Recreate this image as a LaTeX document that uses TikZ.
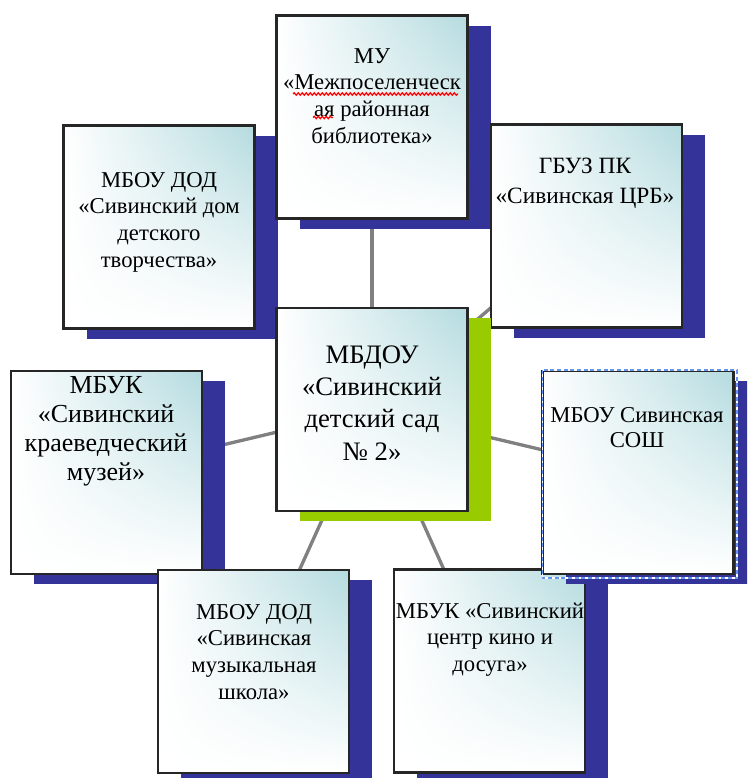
\documentclass[tikz,border=0pt]{standalone}
\usepackage{fontspec}
\setmainfont{Liberation Serif}
\usetikzlibrary{decorations.pathmorphing,shadings}
\definecolor{shblue}{RGB}{51,51,153}
\definecolor{shgreen}{RGB}{153,204,0}
\definecolor{tealtop}{RGB}{180,219,223}
\definecolor{linegray}{RGB}{128,128,128}
\definecolor{selblue}{RGB}{100,150,240}
\pgfdeclarelayer{bg}
\pgfsetlayers{bg,main}
\newcommand{\orgbox}[4]{%
  \fill[#4] ({#2-95.5+23},{#3-101.5+10}) rectangle ({#2+95.5+23},{#3+101.5+10});
  \node[orgshape] (#1) at (#2,#3) {};}
\tikzset{
  orgshape/.style={rectangle, minimum width=143.25pt, minimum height=152.25pt,
    inner sep=0pt, draw=black!85, line width=1.6pt,
    upper left=white, upper right=tealtop, lower left=white, lower right=white},
  txt/.style={align=center, inner sep=0pt, anchor=north,
    font=\fontsize{17}{20}\selectfont},
  conn/.style={draw=linegray, line width=2.5pt},
  spell/.style={draw=red, line width=0.9pt, decorate,
    decoration={snake, amplitude=0.9pt, segment length=3pt}}
}
\begin{document}
\begin{tikzpicture}[x=0.75pt,y=-0.75pt]
\useasboundingbox (0,0) rectangle (747,778);
\clip (0,0) rectangle (747,778);

\orgbox{dod}{159}{227}{shblue}
\orgbox{mu}{372}{117}{shblue}
\orgbox{gbuz}{586.5}{226}{shblue}
\orgbox{ctr}{372}{409.5}{shgreen}
\orgbox{mus}{106.5}{472.5}{shblue}
\orgbox{music}{253.5}{671.5}{shblue}
\orgbox{kino}{489.5}{671}{shblue}
\orgbox{sosh}{638}{472.5}{shblue}

% selection frame of the school box
\draw[white, line width=1pt] (542.5,370) rectangle (737,578);
\draw[selblue, line width=1pt, dash pattern=on 3pt off 2pt] (542.5,370) rectangle (737,578);

\node[txt] (tmu) at (372,44.3) {\strut МУ\\«Межпоселенческ\\ая районная\\библиотека»};
\draw[spell] (293,94) -- (458,94);
\draw[spell] (313,117.5) -- (333,117.5);
\node[txt] (tdod) at (159,168.3) {\strut МБОУ ДОД\\«Сивинский дом\\детского\\творчества»};
\node[txt, font=\fontsize{17.5}{22.5}\selectfont] (tgbuz) at (585,152) {\strut ГБУЗ ПК\\«Сивинская ЦРБ»};
\node[txt, font=\fontsize{20}{24.2}\selectfont] (tctr) at (372,340.4) {\strut МБДОУ\\ «Сивинский\\детский сад\\№ 2»};
\node[txt, font=\fontsize{19.5}{21.75}\selectfont] (tmus) at (106,372.7) {\strut МБУК\\«Сивинский\\краеведческий\\музей»};
\node[txt, font=\fontsize{17}{19}\selectfont] (tsosh) at (637,404.3) {\strut МБОУ Сивинская\\СОШ};
\node[txt] (tmusic) at (254,600.3) {\strut МБОУ ДОД\\«Сивинская\\музыкальная\\школа»};
\node[txt] (tkino) at (490,599.3) {\strut МБУК «Сивинский\\центр кино и\\досуга»};

\begin{pgfonlayer}{bg}
\foreach \b in {mu,dod,gbuz,mus,sosh,music,kino}
  \draw[conn] (ctr.center) -- (\b.center);
\end{pgfonlayer}
\end{tikzpicture}
\end{document}
